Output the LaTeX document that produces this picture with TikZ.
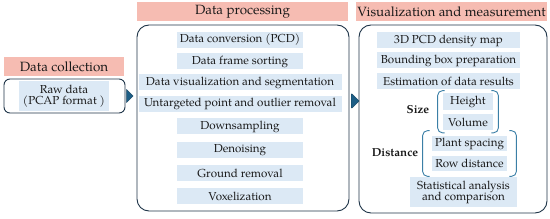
\documentclass[tikz,border=0pt]{standalone}
\usepackage{fontspec}
\setmainfont{TeX Gyre Pagella}
\usetikzlibrary{positioning,fit,shapes.symbols}
\definecolor{navy}{HTML}{1E3448}
\definecolor{pink}{HTML}{F6BCB2}
\definecolor{sky}{HTML}{DCE9F5}
\definecolor{teal}{HTML}{3B7FA6}
\definecolor{arrowblue}{HTML}{1D5E86}
\definecolor{ink}{HTML}{1A1A1A}

\begin{document}
\begin{tikzpicture}[
  x=1pt, y=-1pt,
  font=\fontsize{11.6}{12.4}\selectfont,
  header/.style={fill=pink, text=ink, minimum height=19pt, inner sep=0pt,
                 font=\fontsize{13.4}{14}\selectfont},
  panel/.style={draw=navy, line width=0.9pt, rounded corners=12pt, inner sep=0pt},
  item/.style={fill=sky, text=ink, minimum height=16pt, inner sep=0pt, align=center},
  label/.style={font=\fontsize{11.6}{12.4}\selectfont\bfseries, text=ink},
  bracket/.style={draw=teal, line width=0.9pt, rounded corners=5pt},
  flowtip/.style={shape=signal, signal to=east, fill=arrowblue, draw=arrowblue!70!black,
                  line width=0.4pt, minimum width=6pt, minimum height=13pt, inner sep=0pt}
]
\useasboundingbox (0,0) rectangle (550,219);

% data collection
\node[header, minimum width=120pt] (colhead) at (64,66.5) {Data collection};
\node[panel, minimum width=121pt, minimum height=34pt, rounded corners=6pt] (rawbox) at (64.5,96) {};
\node[item, minimum width=90pt, minimum height=30pt] (raw) at (64,96)
  {Raw data\\[-1.5pt](PCAP format )};

% data processing
\node[header, minimum width=211pt] (prochead) at (242.5,12) {Data processing};
\node[panel, minimum width=212pt, minimum height=186pt] (procbox) at (243,118) {};
\node[item, minimum width=126pt] (conv) at (240,40) {Data conversion (PCD)};
\node[item, minimum width=126pt] (sort) at (240,61.5) {Data frame sorting};
\node[item, minimum width=203pt] (seg) at (240,82.5) {Data visualization and segmentation};
\node[item, minimum width=203pt] (outl) at (240,104) {Untargeted point and outlier removal};
\node[item, minimum width=126pt] (down) at (240,126.5) {Downsampling};
\node[item, minimum width=126pt] (denoise) at (240,150) {Denoising};
\node[item, minimum width=126pt] (ground) at (240,173.5) {Ground removal};
\node[item, minimum width=126pt] (voxel) at (240,196) {Voxelization};

% visualization and measurement
\node[header, minimum width=191pt] (vishead) at (451.5,12) {Visualization and measurement};
\node[panel, minimum width=188pt, minimum height=188pt] (visbox) at (453,119) {};
\node[item, minimum width=143pt] (density) at (448.5,40.5) {3D PCD density map};
\node[item, minimum width=143pt] (bbox) at (448.5,60.5) {Bounding box preparation};
\node[item, minimum width=143pt] (estim) at (448.5,81) {Estimation of data results};
\node[item, minimum width=50pt, minimum height=17pt] (height) at (468,102) {Height};
\node[item, minimum width=50pt] (volume) at (468,122) {Volume};
\node[item, minimum width=75pt, minimum height=15pt] (plant) at (469.5,143.5) {Plant spacing};
\node[item, minimum width=75pt, minimum height=15pt] (row) at (469.5,163.5) {Row distance};
\node[item, minimum width=107pt, minimum height=30pt] (stats) at (463.5,192)
  {Statistical analysis\\[-1.5pt]and comparison};
\node[label] (size) at (418,110) {Size};
\node[label] (dist) at (395,153) {Distance};

% brackets
\node[fit=(height)(volume), inner xsep=5pt, inner ysep=2.5pt] (sizegrp) {};
\node[fit=(plant)(row), inner xsep=9pt, inner ysep=5pt] (distgrp) {};
\foreach \g in {sizegrp,distgrp}{
  \draw[bracket] ([xshift=7pt]\g.north west) -- (\g.north west) -- (\g.south west) -- ([xshift=7pt]\g.south west);
  \draw[bracket] ([xshift=-7pt]\g.north east) -- (\g.north east) -- (\g.south east) -- ([xshift=-7pt]\g.south east);
}

% flow arrows
\node[flowtip, anchor=west] (tip1) at ([xshift=1pt]rawbox.east) {};
\node[flowtip, anchor=west, minimum width=8pt, minimum height=14pt] (tip2) at (351,101) {};

\end{tikzpicture}
\end{document}
